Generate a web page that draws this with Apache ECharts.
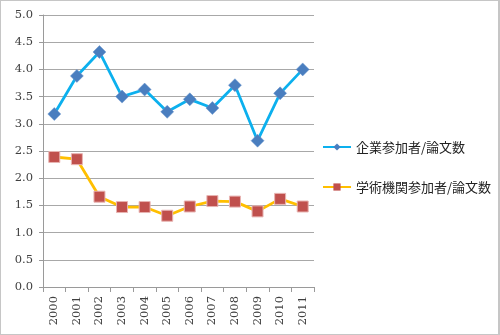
<!DOCTYPE html>
<html><head><meta charset="utf-8">
<script src="https://cdn.jsdelivr.net/npm/echarts@6/dist/echarts.min.js"></script>
<style>
html,body{margin:0;padding:0;background:#fff;}
#c{width:500px;height:335px;box-sizing:border-box;border:1px solid #c6c6c6;border-right-width:2px;}
</style></head>
<body><div id="c"></div>
<script>
const categories = ['2000','2001','2002','2003','2004','2005','2006','2007','2008','2009','2010','2011'];
const seriesNames = ['企業参加者/論文数','学術機関参加者/論文数'];
const companyValues = [3.18,3.88,4.32,3.50,3.63,3.22,3.45,3.29,3.71,2.69,3.56,4.00];
const academicValues = [2.39,2.35,1.66,1.47,1.47,1.31,1.48,1.58,1.57,1.39,1.62,1.48];
const yTicks = [0,0.5,1,1.5,2,2.5,3,3.5,4,4.5,5];

const chart = echarts.init(document.getElementById('c'), null, {renderer:'canvas'});
const axisFont = {fontFamily:'DejaVu Serif', fontSize:11.5, color:'#404040'};
chart.setOption({
  animation:false,
  grid:{left:42,right:184,top:14,bottom:47},
  legend:{
    orient:'vertical', left:316, top:134, itemWidth:28, itemHeight:9, itemGap:26, itemTextGap:3,
    itemStyle:{borderWidth:0},
    textStyle:{fontFamily:'Noto Sans CJK JP', fontSize:13, color:'#222', lineHeight:14},
    data:seriesNames
  },
  xAxis:{
    type:'category', data:categories, boundaryGap:true,
    axisLine:{lineStyle:{color:'#9a9a9a',width:1}},
    axisTick:{show:true,length:5,interval:0,lineStyle:{color:'#9a9a9a'}},
    axisLabel:Object.assign({rotate:90,interval:0,margin:9}, axisFont),
    splitLine:{show:false}
  },
  yAxis:{
    type:'value', min:0, max:5, interval:0.5,
    axisLine:{show:true,lineStyle:{color:'#9a9a9a'}},
    axisTick:{show:true,length:4,lineStyle:{color:'#9a9a9a'}},
    axisLabel:Object.assign({margin:10,formatter:v=>v.toFixed(1)}, axisFont),
    splitLine:{show:true,lineStyle:{color:'#a8a8a8',width:1}}
  },
  series:[
    {name:seriesNames[0], type:'line', data:companyValues, symbol:'diamond', symbolSize:[13,13],
     lineStyle:{color:'#0cb0ee',width:2.8}, itemStyle:{color:'#4a7ebf',borderColor:'#6d97cc',borderWidth:0.5}},
    {name:seriesNames[1], type:'line', data:academicValues, symbol:'rect', symbolSize:11,
     lineStyle:{color:'#ffbf00',width:2.8}, itemStyle:{color:'#c0504d',borderColor:'#e8b4b2',borderWidth:1}}
  ]
});
</script></body></html>
